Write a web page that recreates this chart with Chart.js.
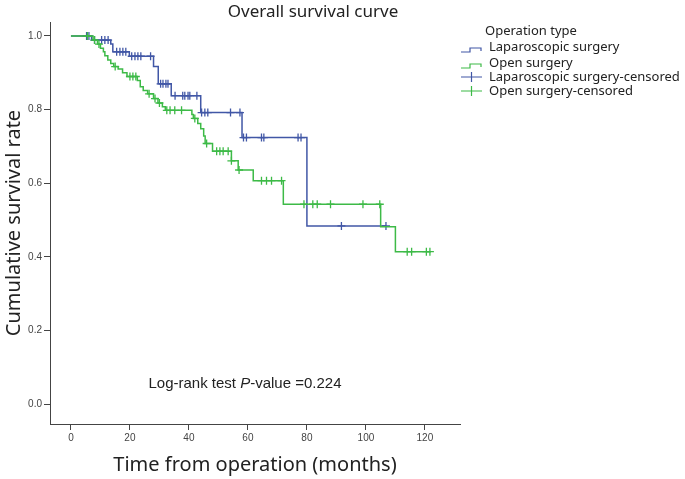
<!DOCTYPE html>
<html>
<head>
<meta charset="utf-8">
<script src="https://cdn.jsdelivr.net/npm/chart.js@4.4.1/dist/chart.umd.min.js"></script>
<style>
  body { margin: 0; background: #fff; }
  #wrap { width: 685px; height: 479px; }
</style>
</head>
<body>
<div id="wrap"><canvas id="graph"></canvas></div>
<script>
// Kaplan-Meier steps (months, survival)
let lapTimes = [0, 7, 13.5, 14.2, 19.8, 28, 29.6, 34, 44, 58, 80, 106.8];
let lapSurv  = [1, 0.989, 0.978, 0.957, 0.945, 0.917, 0.870, 0.838, 0.792, 0.724, 0.484, 0.484];
let lapCensored = [5.3, 6.1, 8, 10.4, 11.5, 12.6, 15.5, 16.6, 17.6, 18.6, 20.6, 21.7, 22.7, 23.7, 27,
  30.4, 31.2, 32.2, 32.9, 35.3, 37.9, 38.6, 39.7, 40.3, 42.7, 44.3, 45.4, 46.4, 54.1, 57.3,
  58.5, 59.5, 64.6, 65.4, 77, 78, 91.7, 106.8];

let openTimes = [0, 7.5, 9, 10, 11, 11.5, 12.5, 13.5, 14.5, 16, 17.5, 19, 22.5, 23.5, 24.5, 26, 28,
  29.5, 31, 32, 41, 41.5, 43, 44, 45, 45.5, 48, 54.4, 56.7, 61.8, 72, 105, 110, 122];
let openSurv = [1, 0.989, 0.978, 0.967, 0.957, 0.946, 0.935, 0.925, 0.917, 0.91, 0.9, 0.89, 0.879, 0.862,
  0.852, 0.843, 0.83, 0.818, 0.808, 0.798, 0.787, 0.776, 0.762, 0.748, 0.728, 0.708, 0.687, 0.661,
  0.636, 0.607, 0.543, 0.482, 0.414, 0.414];
let openCensored = [5.6, 8, 9.5, 15, 20, 21, 22, 26.5, 28.5, 30, 32.5, 33.6, 35.2, 37.5, 42, 46, 49.4,
  50.5, 51.6, 53.3, 54.4, 57, 64.6, 66.3, 68, 71.4, 79, 82, 83.5, 88, 99, 104.7, 114, 115.5, 120.5, 121.7];

const xTicks = [0, 20, 40, 60, 80, 100, 120];
const yTicks = [0, 0.2, 0.4, 0.6, 0.8, 1.0];

const blue = '#4157a6';
const green = '#3dba47';
const uiFont = '"Noto Sans", "Open Sans", sans-serif';
const tickFont = '"Liberation Sans", Arial, sans-serif';

// value of the step curve at time t
function stepValue(times, surv, t) {
  let v = surv[0];
  for (let i = 0; i < times.length; i++) if (times[i] <= t) v = surv[i];
  return v;
}
function toPoints(times, surv) {
  return times.map((t, i) => ({ x: t, y: surv[i] }));
}
function censorPoints(times, surv, cens) {
  return cens.map(t => ({ x: t, y: stepValue(times, surv, t) }));
}

// title, log-rank note and the SPSS style legend
const extras = {
  id: 'extras',
  afterDraw(chart) {
    const ctx = chart.ctx;
    ctx.save();
    ctx.fillStyle = '#222';
    ctx.textBaseline = 'middle';
    ctx.textAlign = 'center';
    ctx.font = '17px ' + uiFont;
    ctx.fillText('Overall survival curve', 313, 12);

    // Log-rank note with italic P
    ctx.textAlign = 'left';
    let parts = [['Log-rank test ', ''], ['P', 'italic '], ['-value =0.224', '']];
    let w = 0;
    parts.forEach(p => { ctx.font = p[1] + '15px ' + tickFont; w += ctx.measureText(p[0]).width; });
    let x = 245 - w / 2;
    parts.forEach(p => {
      ctx.font = p[1] + '15px ' + tickFont;
      ctx.fillText(p[0], x, 384);
      x += ctx.measureText(p[0]).width;
    });

    // legend
    ctx.font = '13px ' + uiFont;
    ctx.fillText('Operation type', 485, 31);
    const items = [
      ['Laparoscopic surgery', blue, 'step', 47],
      ['Open surgery', green, 'step', 63],
      ['Laparoscopic surgery-censored', blue, 'cross', 77],
      ['Open surgery-censored', green, 'cross', 91],
    ];
    items.forEach(it => {
      const y = it[3];
      ctx.strokeStyle = it[1];
      ctx.lineWidth = 1.2;
      ctx.beginPath();
      if (it[2] === 'step') {
        ctx.moveTo(461, y + 5);
        ctx.lineTo(470, y + 5);
        ctx.lineTo(470, y + 1);
        ctx.lineTo(481, y + 1);
        ctx.lineTo(481, y + 4);
      } else {
        ctx.moveTo(461, y);
        ctx.lineTo(482, y);
        ctx.moveTo(471.5, y - 5);
        ctx.lineTo(471.5, y + 5);
      }
      ctx.stroke();
      ctx.fillStyle = '#222';
      ctx.fillText(it[0], 489, y);
    });
    ctx.restore();
  }
};

const ctx = document.getElementById('graph');

new Chart(ctx, {
  type: 'scatter',
  data: {
    datasets: [
      {
        label: 'Open surgery',
        data: toPoints(openTimes, openSurv),
        showLine: true, stepped: true,
        borderColor: green, borderWidth: 1.5, pointRadius: 0, fill: false
      },
      {
        label: 'Open surgery-censored',
        data: censorPoints(openTimes, openSurv, openCensored),
        showLine: false, pointStyle: 'cross', pointRadius: 4,
        borderColor: green, borderWidth: 1.3
      },
      {
        label: 'Laparoscopic surgery',
        data: toPoints(lapTimes, lapSurv),
        showLine: true, stepped: true,
        borderColor: blue, borderWidth: 1.5, pointRadius: 0, fill: false
      },
      {
        label: 'Laparoscopic surgery-censored',
        data: censorPoints(lapTimes, lapSurv, lapCensored),
        showLine: false, pointStyle: 'cross', pointRadius: 4,
        borderColor: blue, borderWidth: 1.3
      }
    ]
  },
  options: {
    responsive: true,
    maintainAspectRatio: false,
    animation: false,
    layout: { padding: { left: 0, right: 225, top: 22, bottom: 0 } },
    plugins: { legend: { display: false }, tooltip: { enabled: false } },
    scales: {
      x: {
        type: 'linear', min: -7.1, max: 131.9,
        afterBuildTicks: s => { s.ticks = xTicks.map(v => ({ value: v })); },
        afterFit: s => { s.height = 55; },
        grid: { drawOnChartArea: false, drawTicks: true, tickLength: 6, color: '#444' },
        border: { display: true, color: '#444', width: 1 },
        ticks: { font: { family: tickFont, size: 10 }, color: '#444', padding: 2, maxRotation: 0 },
        title: { display: true, text: 'Time from operation (months)', font: { family: uiFont, size: 20 }, color: '#222', padding: { bottom: 2 } }
      },
      y: {
        type: 'linear', min: -0.054, max: 1.038,
        afterBuildTicks: s => { s.ticks = yTicks.map(v => ({ value: v })); },
        afterFit: s => { s.width = 50; },
        grid: { drawOnChartArea: false, drawTicks: true, tickLength: 6, color: '#444' },
        border: { display: true, color: '#444', width: 1 },
        ticks: { font: { family: tickFont, size: 10 }, color: '#444', padding: 2, callback: v => v.toFixed(1) },
        title: { display: true, text: 'Cumulative survival rate', font: { family: uiFont, size: 20 }, color: '#222', padding: { top: 2 } }
      }
    }
  },
  plugins: [extras]
});
</script>
</body>
</html>
